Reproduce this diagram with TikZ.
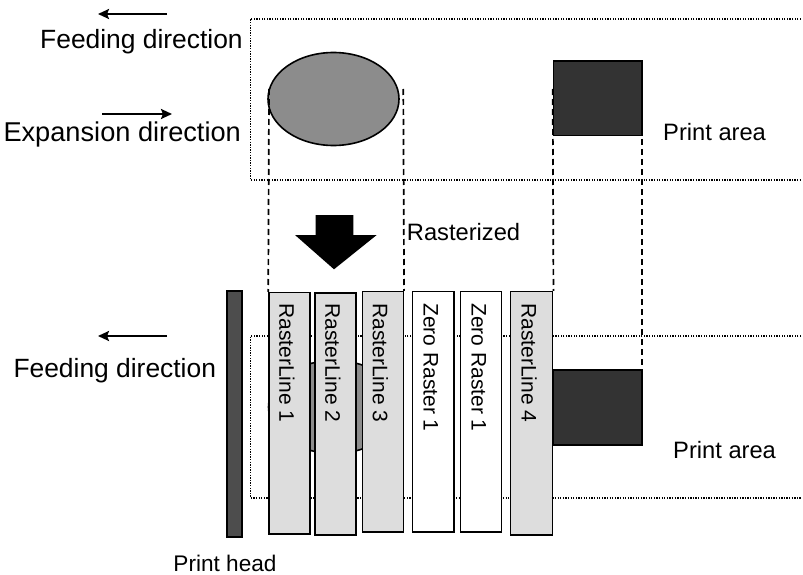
\documentclass[tikz,border=0pt]{standalone}
\usepackage{fontspec}
\setmainfont{Liberation Sans}
\usetikzlibrary{arrows.meta,shapes.geometric}
\definecolor{stripgray}{RGB}{221,221,221}
\definecolor{ellgray}{RGB}{140,140,140}
\definecolor{boxdark}{RGB}{51,51,51}
\definecolor{headgray}{RGB}{77,77,77}
\begin{document}
\begin{tikzpicture}[x=1pt,y=-1pt,
  lbl/.style={inner sep=0pt, anchor=base west, font=\fontsize{23.7}{28}\selectfont},
  biglbl/.style={inner sep=0pt, anchor=base west, font=\fontsize{26.4}{30}\selectfont},
  stripbox/.style={draw=black, line width=1.5pt, fill=stripgray, inner sep=0pt, minimum width=41pt, minimum height=241pt},
  zerobox/.style={stripbox, fill=white},
  striptext/.style={rotate=-90, anchor=west, inner sep=0pt, font=\fontsize{21}{24}\selectfont},
  darkbox/.style={draw=black, line width=1.6pt, fill=boxdark, inner sep=0pt},
  dotline/.style={line width=1.5pt, dash pattern=on 1.3pt off 1.3pt},
  dashline/.style={line width=1.7pt, dash pattern=on 6pt off 4pt},
  dirarrow/.style={line width=2.4pt, -{Stealth[length=11pt, width=10pt, inset=2pt]}},
  ellshape/.style={draw=black, line width=1.6pt, fill=ellgray, ellipse, inner sep=0pt, minimum width=131pt, minimum height=93pt}
]
\useasboundingbox (0,0) rectangle (803,575);

% dotted print-area frames
\coordinate (ta) at (801,19);
\coordinate (tb) at (250.3,19);
\coordinate (tc) at (250.3,180);
\coordinate (td) at (801,180);
\draw[dotline] (ta) -- (tb) -- (tc) -- (td);
\coordinate (ba) at (801,336);
\coordinate (bb) at (250.7,336);
\coordinate (bc) at (250.7,498);
\coordinate (bd) at (801,498);
\draw[dotline] (ba) -- (bb) -- (bc) -- (bd);

% direction arrows and labels
\coordinate (fa1) at (167,14);
\coordinate (fa2) at (98,14);
\draw[dirarrow] (fa1) -- (fa2);
\node[biglbl] (feed1) at (40,48.3) {Feeding direction};
\coordinate (ea1) at (102,114);
\coordinate (ea2) at (172,114);
\draw[dirarrow] (ea1) -- (ea2);
\node[biglbl, font=\fontsize{27.2}{30}\selectfont] (exp) at (3.3,141.7) {Expansion direction};
\coordinate (fb1) at (167,336);
\coordinate (fb2) at (98,336);
\draw[dirarrow] (fb1) -- (fb2);
\node[biglbl] (feed2) at (13.3,377.3) {Feeding direction};

% top shapes
\node[ellshape] (ell1) at (333.5,99) {};
\node[darkbox, minimum width=88.4pt, minimum height=74.7pt] (tbox) at (597.5,98.35) {};
\node[lbl] (pa1) at (663,140) {Print area};

% big arrow
\fill[black] (315.7,215) -- (353.3,215) -- (353.3,235) -- (376.7,235) -- (334,269.3) -- (295,235) -- (315.7,235) -- cycle;
\node[lbl] (rast) at (406.7,240) {Rasterized};

% bottom shapes
\node[ellshape] (ell2) at (334,407) {};
\node[darkbox, minimum width=88.7pt, minimum height=75pt] (bbox) at (597.35,407.5) {};
\node[draw=black, line width=1.6pt, fill=headgray, inner sep=0pt, minimum width=15pt, minimum height=246pt] (head) at (234.5,414) {};
\node[lbl, font=\fontsize{22.6}{26}\selectfont, anchor=base] (ph) at (225,571.5) {Print head};
\node[lbl] (pa2) at (673,458) {Print area};

\node[stripbox, minimum height=241.3pt] (s1) at (289.5,413.35) {};
\node[stripbox, minimum height=242pt] (s2) at (335.5,414) {};
\node[stripbox, minimum width=40.6pt, minimum height=240.3pt] (s3) at (383,411.85) {};
\node[zerobox, minimum width=41.3pt, minimum height=240.3pt] (s4) at (433.35,411.85) {};
\node[zerobox, minimum height=240.3pt] (s5) at (481.2,411.85) {};
\node[stripbox, minimum width=42pt, minimum height=243.3pt] (s6) at (531.7,413.35) {};

\node[striptext] (t1) at ([xshift=-2.5pt]s1.north |- 0,303) {RasterLine 1};
\node[striptext] (t2) at ([xshift=-2.5pt]s2.north |- 0,303) {RasterLine 2};
\node[striptext] (t3) at ([xshift=-2.5pt]s3.north |- 0,303) {RasterLine 3};
\node[striptext] (t4) at ([xshift=-2.5pt]s4.north |- 0,303) {Zero Raster 1};
\node[striptext] (t5) at ([xshift=-2.5pt]s5.north |- 0,303) {Zero Raster 1};
\node[striptext] (t6) at ([xshift=-2.5pt]s6.north |- 0,303) {RasterLine 4};

% dashed projection lines
\coordinate (p1) at (269,89);
\coordinate (p2) at (403.3,89);
\coordinate (p3) at (552.7,89);
\coordinate (p4) at (642,89);
\coordinate (p4e) at (642,400);
\draw[dashline] (p1) -- (s1.north west);
\draw[dashline] (p2) -- (s3.north east);
\draw[dashline] (p3) -- (s6.north east);
\draw[dashline] (p4) -- (p4e);
\end{tikzpicture}
\end{document}
